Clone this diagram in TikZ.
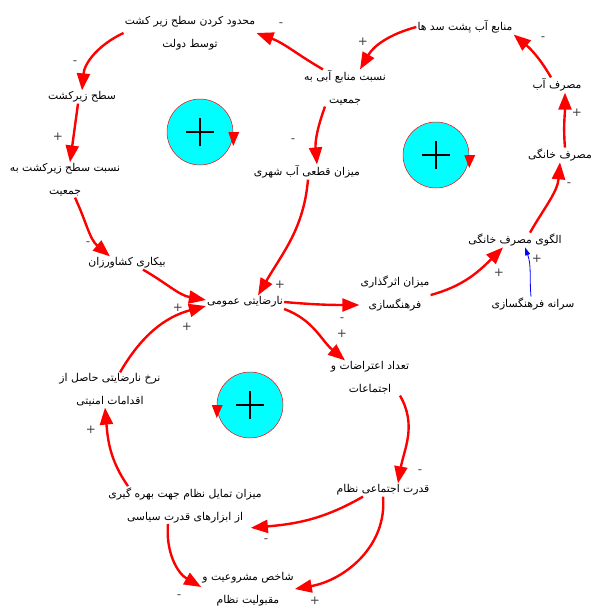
\documentclass[tikz,border=0pt]{standalone}
\usepackage{fontspec}
\setmainfont{DejaVu Sans}
\newfontfamily\arabicfont[Script=Arabic]{DejaVu Sans}
\TeXXeTstate=1
\usepackage{tikz}
\usetikzlibrary{arrows.meta}
\definecolor{loopfill}{RGB}{0,255,255}
\newcommand{\fa}[1]{{\arabicfont\beginR #1\endR}}

\tikzset{
  var/.style={align=center, font=\fontsize{10.8}{23}\selectfont, inner sep=1pt},
  link/.style={draw=red, line width=2.4pt, -{Triangle[length=17pt,width=13pt]}},
  infl/.style={draw=blue, line width=0.8pt, -{Triangle[length=8pt,width=5pt]}},
  sgn/.style={font=\fontsize{12}{12}\selectfont, text=black!75, inner sep=0pt},
  loopmark/.style={circle, fill=loopfill, draw=red, line width=0.5pt, minimum size=66pt, inner sep=0pt}
}

\begin{document}
\begin{tikzpicture}[x=1pt,y=-1pt]
    \useasboundingbox (0,0) rectangle (594,608);
    % variables
    \node[var] (limit) at (190,33) {\fa{محدود کردن سطح زیر کشت}\\\fa{توسط دولت}};
    \node[var] (area) at (82,97) {\fa{سطح زیرکشت}};
    \node[var] (areapop) at (65,180) {\fa{نسبت سطح زیرکشت به}\\\fa{جمعیت}};
    \node[var] (jobless) at (127,263) {\fa{بیکاری کشاورزان}};
    \node[var] (discont) at (245,302) {\fa{نارضایتی عمومی}};
    \node[var] (waterpop) at (345,88) {\fa{نسبت منابع آبی به}\\\fa{جمعیت}};
    \node[var] (dam) at (465,27) {\fa{منابع آب پشت سد ها}};
    \node[var] (use) at (557,85) {\fa{مصرف آب}};
    \node[var] (home) at (560,155) {\fa{مصرف خانگی}};
    \node[var] (pattern) at (515,240) {\fa{الگوی مصرف خانگی}};
    \node[var] (cut) at (307,172) {\fa{میزان قطعی آب شهری}};
    \node[var] (culture) at (395,293) {\fa{میزان اثرگذاری}\\\fa{فرهنگسازی}};
    \node[var] (percap) at (533,304) {\fa{سرانه فرهنگسازی}};
    \node[var] (protest) at (370,378) {\fa{تعداد اعتراضات و}\\\fa{اجتماعات}};
    \node[var] (power) at (383,490) {\fa{قدرت اجتماعی نظام}};
    \node[var] (tend) at (185,505) {\fa{میزان تمایل نظام جهت بهره گیری}\\\fa{از ابزارهای قدرت سیاسی}};
    \node[var] (secur) at (110,390) {\fa{نرخ نارضایتی حاصل از}\\\fa{اقدامات امنیتی}};
    \node[var] (legit) at (248,589) {\fa{شاخص مشروعیت و}\\\fa{مقبولیت نظام}};

    % loop markers
    \foreach \n/\x/\y in {L1/200/132, L2/436/155, L3/250/405} {
      \node[loopmark] (\n) at (\x,\y) {};
      \draw[line width=1.3pt] ([xshift=-14pt]\n.center) -- ([xshift=14pt]\n.center);
      \draw[line width=1.3pt] ([yshift=-14pt]\n.center) -- ([yshift=14pt]\n.center);
    }
    \fill[red] ([yshift=-14pt]L1.east) -- ([xshift=-5pt]L1.east) -- ([xshift=6pt]L1.east) -- cycle;
    \fill[red] ([yshift=-13pt]L2.east) -- ([xshift=-5pt]L2.east) -- ([xshift=6pt]L2.east) -- cycle;
    \fill[red] ([yshift=-13pt]L3.west) -- ([xshift=-5pt]L3.west) -- ([xshift=6pt]L3.west) -- cycle;

    % links
    \draw[link] (limit.west) to[out=205,in=85] (area.north);
    \draw[link] ([xshift=-4pt]area.south) -- ([xshift=5pt]areapop.north);
    \draw[link] ([xshift=10pt]areapop.south) to[out=-65,in=140] ([xshift=-17pt]jobless.north);
    \draw[link] ([xshift=16pt]jobless.south) to[out=-30,in=170] ([yshift=2pt]discont.west);
    \draw[link] ([xshift=10pt]secur.north) to[out=60,in=195] ([yshift=-4pt]discont.west);
    \draw[link] ([xshift=-20pt]waterpop.south) to[out=-110,in=95] ([xshift=10pt]cut.north);
    \draw[link] ([xshift=1pt]cut.south) to[out=-95,in=60] ([xshift=13pt]discont.north);
    \draw[link] ([xshift=-22pt]waterpop.north) to[out=150,in=-20] (limit.east);
    \draw[link] (dam.west) to[out=195,in=60] ([xshift=15pt]waterpop.north);
    \draw[link] ([xshift=-6pt]use.north) to[out=120,in=-40] (dam.south east);
    \draw[link] ([xshift=5pt]home.north) to[out=95,in=-90] ([xshift=8pt]use.south);
    \draw[link] ([xshift=15pt]pattern.north) to[out=60,in=-95] (home.south);
    \draw[link] ([yshift=-2pt]culture.east) to[out=15,in=-135] ([xshift=-12pt]pattern.south);
    \draw[infl] ([xshift=-2pt]percap.north) to[out=95,in=-70] ([xshift=10pt]pattern.south);
    \draw[link] (discont.east) to[out=-5,in=180] ([yshift=-12pt]culture.west);
    \draw[link] ([yshift=-7pt]discont.east) to[out=-20,in=140] ([xshift=-25pt]protest.north);
    \draw[link] ([xshift=30pt]protest.south) to[out=-60,in=80] ([xshift=15pt]power.north);
    \draw[link] ([xshift=-20pt]power.south) to[out=-150,in=5] ([xshift=-12pt,yshift=-4pt]tend.south east);
    \draw[link] (power.south) to[out=-85,in=10] (legit.east);
    \draw[link] ([xshift=-17pt]tend.south) to[out=-95,in=150] ([yshift=2pt]legit.west);
    \draw[link] ([xshift=-57pt]tend.north) to[out=125,in=-85] ([xshift=-5pt]secur.south);

    % polarities
    \foreach \x/\y/\s [count=\i] in {75/63/-, 58/137/+, 88/244/-, 178/308/+, 187/327/+,
      293/141/-, 280/285/+, 281/25/-, 363/42/+, 543/39/-, 577/113/+, 569/185/-,
      499/273/+, 537/259/+, 342/320/-, 342/334/+, 420/472/-, 266/541/-, 315/601/+,
      179/597/-, 91/430/+}
      \node[sgn] (s\i) at (\x,\y) {\s};
\end{tikzpicture}
\end{document}
